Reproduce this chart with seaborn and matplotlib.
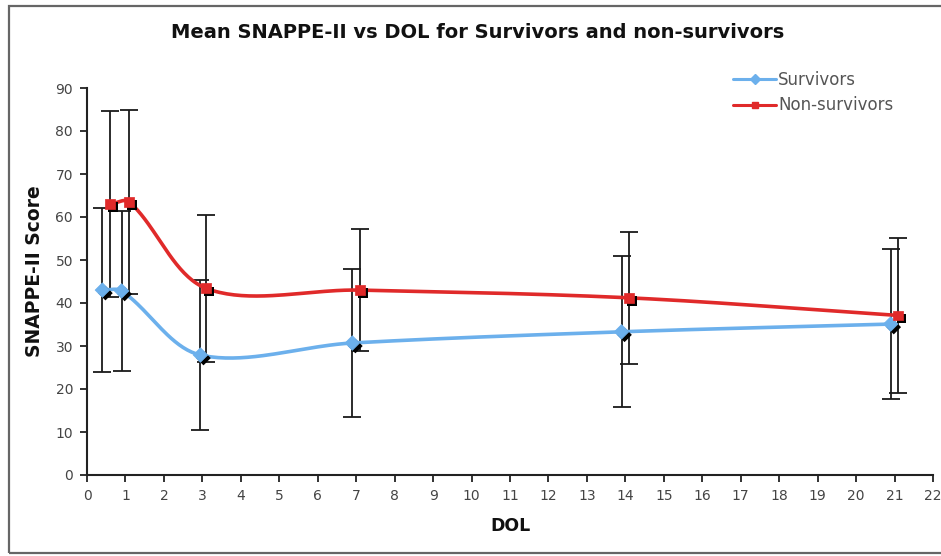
import numpy as np
import pandas as pd
import matplotlib
matplotlib.use("Agg")
import matplotlib.pyplot as plt
import matplotlib.patheffects as pe
from matplotlib.lines import Line2D
from matplotlib.patches import Rectangle
import seaborn as sns

# Mean SNAPPE-II score by day of life (DOL), with SD error bars
surv_dol = [0.4, 0.9, 2.95, 6.9, 13.9, 20.9]
surv_mean = [43.0, 42.8, 27.9, 30.7, 33.3, 35.1]
surv_sd = [19.0, 18.7, 17.4, 17.1, 17.6, 17.4]

nonsurv_dol = [0.6, 1.1, 3.1, 7.1, 14.1, 21.1]
nonsurv_mean = [63.0, 63.5, 43.4, 43.0, 41.2, 37.1]
nonsurv_sd = [21.6, 21.5, 17.1, 14.1, 15.4, 18.0]

series_names = ["Survivors", "Non-survivors"]
series_colors = ["#6cb0ec", "#e02a2a"]
series_markers = ["D", "s"]

x_ticks = list(range(0, 23))
y_ticks = list(range(0, 91, 10))

sns.set_style("white")
plt.rcParams["font.family"] = ["DejaVu Sans"]

fig = plt.figure(figsize=(9.41, 5.56), dpi=100)
ax = fig.add_axes([87 / 941, 81 / 556, 846 / 941, 387 / 556])

# chart-area frame
fig.patches.append(Rectangle((9 / 941, 3 / 556), 1.0, 547 / 556, transform=fig.transFigure,
                             fill=False, edgecolor="#666666", linewidth=1.6, zorder=0))

XSPAN, YSPAN = 22.0, 90.0
XPIX, YPIX = 846.0, 387.0


def smooth_curve(xs, ys, steps=40):
    """Bezier smoothing through the points, tangents scaled by neighbouring chord lengths."""
    px = np.asarray(xs) * XPIX / XSPAN
    py = np.asarray(ys) * YPIX / YSPAN
    pts = np.column_stack([px, py])
    n = len(pts)
    d = np.linalg.norm(np.diff(pts, axis=0), axis=1)
    out = []
    for i in range(n - 1):
        p1, p2 = pts[i], pts[i + 1]
        if i > 0:
            t1 = pts[i + 1] - pts[i - 1]
            c1 = p1 + t1 * d[i] / (d[i - 1] + d[i]) / 3.0
        else:
            c1 = p1 + (p2 - p1) / 3.0
        if i + 2 < n:
            t2 = pts[i + 2] - pts[i]
            c2 = p2 - t2 * d[i] / (d[i] + d[i + 1]) / 3.0
        else:
            c2 = p2 - (p2 - p1) / 3.0
        t = np.linspace(0, 1, steps, endpoint=(i == n - 2))[:, None]
        seg = ((1 - t) ** 3) * p1 + 3 * ((1 - t) ** 2) * t * c1 + 3 * (1 - t) * t ** 2 * c2 + t ** 3 * p2
        out.append(seg)
    out = np.vstack(out)
    return out[:, 0] * XSPAN / XPIX, out[:, 1] * YSPAN / YPIX


groups = [(surv_dol, surv_mean, surv_sd), (nonsurv_dol, nonsurv_mean, nonsurv_sd)]

curves = []
for name, (xs, ys, _) in zip(series_names, groups):
    cx, cy = smooth_curve(xs, ys)
    curves.append(pd.DataFrame({"DOL": cx, "score": cy, "group": name}))
curve_df = pd.concat(curves, ignore_index=True)

sns.lineplot(data=curve_df, x="DOL", y="score", hue="group", palette=series_colors,
             hue_order=series_names, sort=False, estimator=None,
             linewidth=2.6, legend=False, ax=ax, zorder=3)

shadow = [pe.SimplePatchShadow(offset=(2.2, -2.2), shadow_rgbFace="black", alpha=1.0), pe.Normal()]

for (xs, ys, sd), color, marker in zip(groups, series_colors, series_markers):
    ax.errorbar(xs, ys, yerr=sd, fmt="none", ecolor="#1a1a1a", elinewidth=1.3,
                capsize=6.5, capthick=1.3, zorder=2)
    pts = pd.DataFrame({"DOL": xs, "score": ys})
    sc = sns.scatterplot(data=pts, x="DOL", y="score", marker=marker, color=color,
                         s=50 if marker == "s" else 55, edgecolor=color, linewidth=0.5,
                         ax=ax, zorder=4, legend=False)
    sc.collections[-1].set_path_effects(shadow)

ax.set_xlim(0, 22)
ax.set_ylim(0, 90)
ax.set_xticks(x_ticks)
ax.set_yticks(y_ticks)
ax.tick_params(axis="both", direction="out", length=5, width=1.3, color="#222222",
               labelsize=10, labelcolor="#444444", pad=5, left=True, bottom=True)
for side in ["top", "right"]:
    ax.spines[side].set_visible(False)
for side in ["left", "bottom"]:
    ax.spines[side].set_color("#222222")
    ax.spines[side].set_linewidth(1.5)

ax.set_xlabel("DOL", fontsize=12.5, fontweight="bold", color="#111111", labelpad=10)
ax.set_ylabel("SNAPPE-II Score", fontsize=13.5, fontweight="bold", color="#111111")
ax.yaxis.set_label_coords(-0.051, 0.527)

fig.text(478 / 941, 1 - 33 / 556, "Mean SNAPPE-II vs DOL for Survivors and non-survivors",
         ha="center", va="center", fontsize=14, fontweight="bold", color="#111111")

handles = [Line2D([0], [0], color=c, marker=m, markersize=5, linewidth=2.2, markeredgecolor=c)
           for c, m in zip(series_colors, series_markers)]
leg = fig.legend(handles, series_names, loc="upper left", bbox_to_anchor=(733 / 941, 1 - 71 / 556),
                 frameon=False, fontsize=12, handlelength=2.6, handletextpad=0.1, labelspacing=0.45,
                 borderaxespad=0, borderpad=0)
for t in leg.get_texts():
    t.set_color("#555555")

fig.savefig("out.png", dpi=100)
